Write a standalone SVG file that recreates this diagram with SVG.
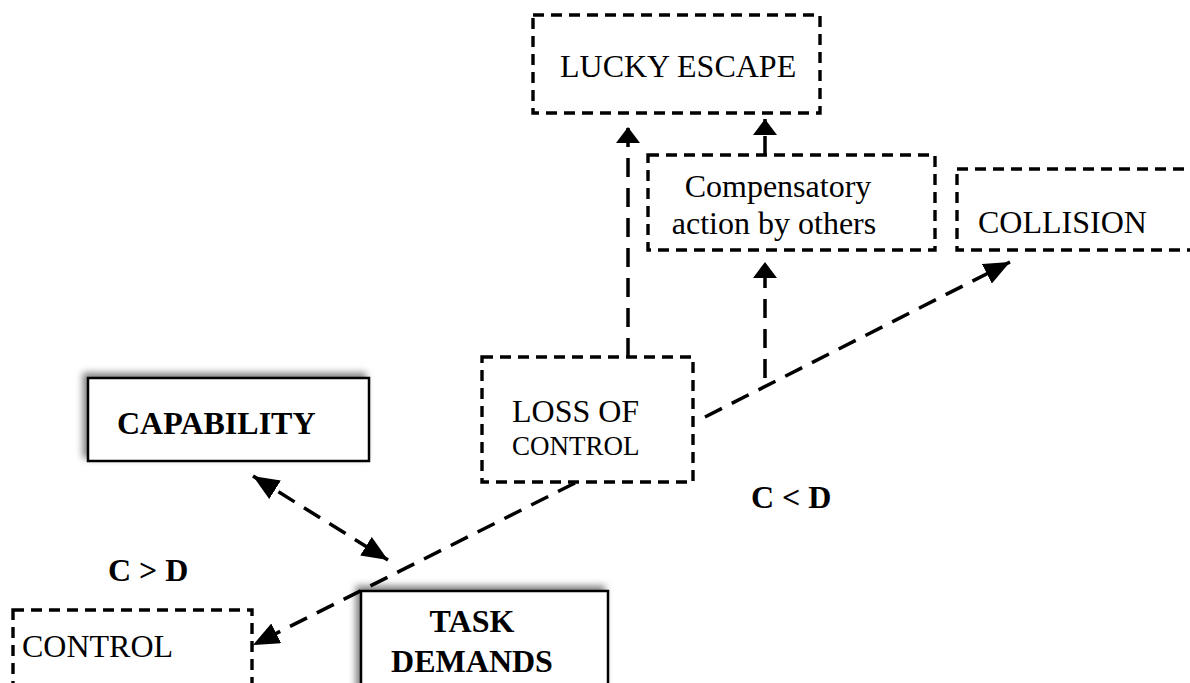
<svg xmlns="http://www.w3.org/2000/svg" width="1190" height="683" viewBox="0 0 1190 683">
  <defs>
    <style>
      .dbox { fill: #fff; stroke: #000; stroke-width: 3.4; stroke-dasharray: 11 7; }
      .sbox { fill: #fff; stroke: #000; stroke-width: 2.5; }
      .t { font-family: "Liberation Serif", "Times New Roman", serif; font-size: 32px; fill: #000; }
      .b { font-weight: bold; }
      .conn { fill: none; stroke: #000; stroke-width: 3.5; stroke-dasharray: 19 11; }
    </style>
    <filter id="shadow" x="-10%" y="-20%" width="120%" height="140%">
      <feDropShadow dx="-4" dy="-4" stdDeviation="3.5" flood-color="#000" flood-opacity="0.5"/>
    </filter>
    <marker id="vhead" markerUnits="userSpaceOnUse" viewBox="0 0 16 24" refX="16" refY="12" markerWidth="16" markerHeight="24" orient="auto-start-reverse">
      <path d="M0,0 L16,12 L0,24 z" fill="#000"/>
    </marker>
    <marker id="dhead" markerUnits="userSpaceOnUse" viewBox="0 0 26 22" refX="26" refY="11" markerWidth="26" markerHeight="22" orient="auto-start-reverse">
      <path d="M0,0 L26,11 L0,22 z" fill="#000"/>
    </marker>
  </defs>
  <rect width="1190" height="683" fill="#fff"/>

  <g id="connectors">
    <line class="conn" x1="628" y1="357" x2="628" y2="127" marker-end="url(#vhead)"/>
    <line class="conn" x1="765" y1="155" x2="765" y2="119" marker-end="url(#vhead)"/>
    <line class="conn" x1="765" y1="378" x2="765" y2="262" marker-end="url(#vhead)"/>
    <line class="conn" x1="705" y1="417" x2="1010" y2="262" marker-end="url(#dhead)"/>
    <line class="conn" x1="575" y1="483" x2="253" y2="645" marker-end="url(#dhead)"/>
    <line class="conn" x1="253" y1="476" x2="388" y2="560" marker-start="url(#dhead)" marker-end="url(#dhead)"/>
  </g>

  <g id="lucky-escape">
    <rect class="dbox" x="533" y="15" width="287" height="98"/>
    <text class="t" x="560" y="77">LUCKY ESCAPE</text>
  </g>

  <g id="compensatory">
    <rect class="dbox" x="648" y="155" width="287" height="95"/>
    <text class="t" x="778" y="197" text-anchor="middle">Compensatory</text>
    <text class="t" x="774" y="234" text-anchor="middle">action by others</text>
  </g>

  <g id="collision">
    <rect class="dbox" x="957" y="169" width="260" height="81"/>
    <text class="t" x="978" y="233">COLLISION</text>
  </g>

  <g id="loss-of-control">
    <rect class="dbox" x="482" y="357" width="211" height="125"/>
    <text class="t" x="512" y="422">LOSS OF</text>
    <text class="t" x="512" y="455" style="font-size:27px">CONTROL</text>
  </g>

  <g id="capability">
    <rect class="sbox" x="88" y="378" width="281" height="83" filter="url(#shadow)"/>
    <text class="t b" x="117" y="434">CAPABILITY</text>
  </g>

  <g id="task-demands">
    <rect class="sbox" x="361" y="591" width="247" height="110" filter="url(#shadow)"/>
    <text class="t b" x="472" y="632" text-anchor="middle">TASK</text>
    <text class="t b" x="472" y="672" text-anchor="middle">DEMANDS</text>
  </g>

  <g id="control">
    <rect class="dbox" x="13" y="610" width="239" height="90"/>
    <text class="t" x="22" y="657">CONTROL</text>
  </g>

  <g id="labels">
    <text class="t b" x="108" y="581">C &gt; D</text>
    <text class="t b" x="751" y="508">C &lt; D</text>
  </g>
</svg>
